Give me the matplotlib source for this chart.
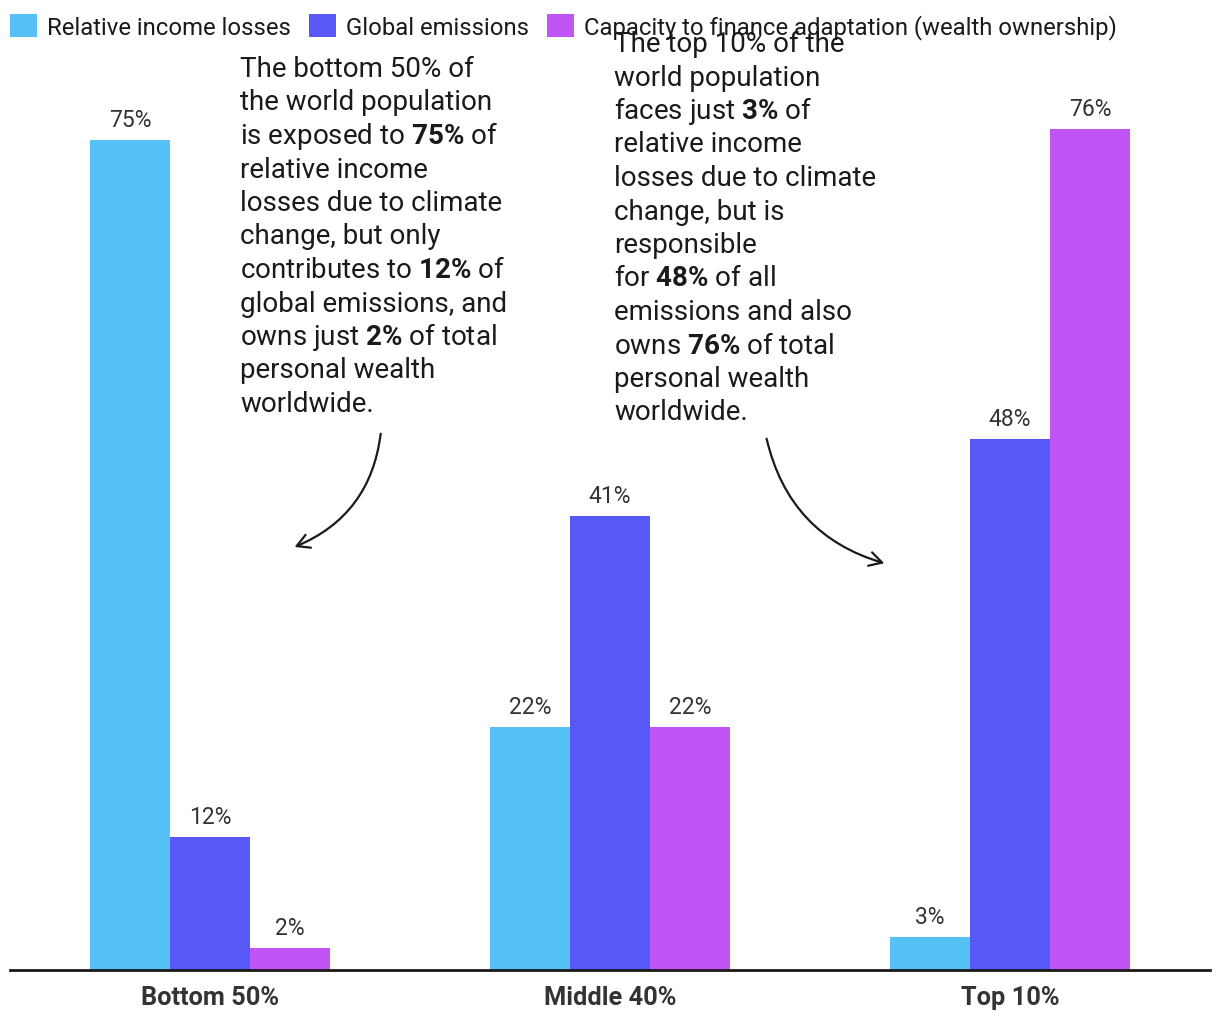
import matplotlib
matplotlib.use("Agg")
import matplotlib.pyplot as plt
import numpy as np
from matplotlib.patches import FancyArrowPatch

plt.rcParams["font.family"] = ["Roboto", "DejaVu Sans"]
plt.rcParams["mathtext.fontset"] = "custom"
plt.rcParams["mathtext.rm"] = "Roboto"
plt.rcParams["mathtext.bf"] = "Roboto:bold"

# data
groups = ["Bottom 50%", "Middle 40%", "Top 10%"]
series = ["Relative income losses", "Global emissions",
          "Capacity to finance adaptation (wealth ownership)"]
income_losses = [75, 22, 3]
emissions = [12, 41, 48]
wealth = [2, 22, 76]
colors = ["#55C1F7", "#5858F6", "#C054F5"]

note_bottom = ["The bottom 50% of", "the world population",
               r"is exposed to $\mathbf{75\%}$ of", "relative income",
               "losses due to climate", "change, but only",
               r"contributes to $\mathbf{12\%}$ of", "global emissions, and",
               r"owns just $\mathbf{2\%}$ of total", "personal wealth",
               "worldwide."]
note_top = ["The top 10% of the", "world population",
            r"faces just $\mathbf{3\%}$ of", "relative income",
            "losses due to climate", "change, but is", "responsible",
            r"for $\mathbf{48\%}$ of all", "emissions and also",
            r"owns $\mathbf{76\%}$ of total", "personal wealth",
            "worldwide."]

W, H = 1220, 1020
fig = plt.figure(figsize=(W / 100, H / 100), dpi=100)
ax = fig.add_axes([10 / W, (H - 971) / H, 1200 / W, 921 / H])

x = np.arange(len(groups))
bw = 0.2
for i, (vals, c, name) in enumerate(zip([income_losses, emissions, wealth], colors, series)):
    pos = x + (i - 1) * bw
    bars = ax.bar(pos, vals, width=bw, color=c, label=name)
    for b, v in zip(bars, vals):
        ax.annotate(f"{v}%", (b.get_x() + b.get_width() / 2, v),
                    xytext=(0, 10), textcoords="offset points",
                    ha="center", va="baseline", fontsize=16.5, color="#333333")

ax.set_xlim(-0.5, 2.5)
ax.set_ylim(0, 921 / 11.067)
for s in ["top", "right", "left"]:
    ax.spines[s].set_visible(False)
ax.spines["bottom"].set_linewidth(2)
ax.spines["bottom"].set_color("#1a1a1a")
ax.set_yticks([])
ax.set_xticks(x)
ax.set_xticklabels(groups, fontsize=18.3, fontweight="bold", color="#333333")
ax.tick_params(axis="x", length=0, pad=11)

fig.legend(loc="upper left", bbox_to_anchor=(10 / W, 1 - 15 / H), ncol=3,
           frameon=False, fontsize=17.2, handlelength=1.15, handleheight=1.1,
           handletextpad=0.4, columnspacing=0.75, borderaxespad=0,
           borderpad=0, labelcolor="#1a1a1a")

# annotation blocks, one text per line so the spacing stays even
for lines, x0, y0 in [(note_bottom, 240, 77), (note_top, 614, 52)]:
    for k, line in enumerate(lines):
        fig.text(x0 / W, 1 - (y0 + k * 33.5) / H, line, fontsize=20,
                 color="#1a1a1a", va="baseline", ha="left")

# curved arrows
a1 = FancyArrowPatch((381, H - 432), (292, H - 549), transform=None,
                     arrowstyle="->,head_length=9,head_width=5",
                     connectionstyle="arc3,rad=-0.3", lw=1.6, color="#1a1a1a")
a2 = FancyArrowPatch((766, H - 437), (887, H - 565), transform=None,
                     arrowstyle="->,head_length=9,head_width=5",
                     connectionstyle="arc3,rad=0.3", lw=1.6, color="#1a1a1a")
fig.add_artist(a1)
fig.add_artist(a2)

fig.savefig("out.png", dpi=100)
